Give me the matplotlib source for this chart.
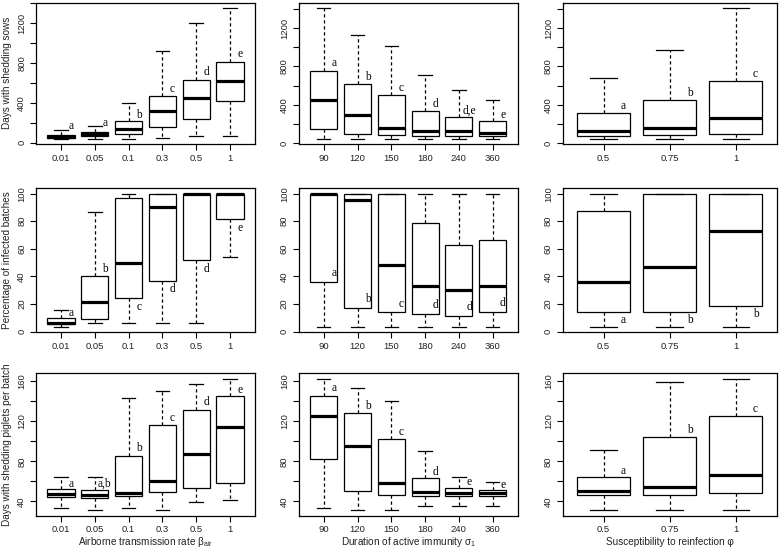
import matplotlib
matplotlib.use('Agg')
import matplotlib.pyplot as plt
import numpy as np

plt.rcParams['font.family'] = ['Liberation Sans', 'DejaVu Sans']
plt.rcParams['mathtext.fontset'] = 'custom'
plt.rcParams['mathtext.rm'] = 'Liberation Sans'
plt.rcParams['mathtext.it'] = 'Liberation Sans:italic'

# ---------------- categories ----------------
beta_cats = ['0.01', '0.05', '0.1', '0.3', '0.5', '1']
sigma_cats = ['90', '120', '150', '180', '240', '360']
phi_cats = ['0.5', '0.75', '1']

# ---------------- Row 1: Days with shedding sows ----------------
sows_beta_lo = [40, 40, 40, 50, 63, 63]
sows_beta_q1 = [47, 70, 90, 157, 234, 421]
sows_beta_med = [62, 84, 137, 314, 445, 622]
sows_beta_q3 = [78, 107, 220, 468, 632, 812]
sows_beta_hi = [130, 164, 404, 922, 1200, 1354]
sows_beta_letters = ['a', 'a', 'b', 'c', 'd', 'e']
sows_beta_letter_y = [164, 194, 281, 541, 708, 889]

sows_sigma_lo = [45, 45, 45, 45, 45, 45]
sows_sigma_q1 = [146, 94, 83, 77, 77, 77]
sows_sigma_med = [452, 289, 157, 122, 129, 108]
sows_sigma_q3 = [755, 612, 501, 334, 268, 226]
sows_sigma_hi = [1409, 1127, 1016, 706, 553, 449]
sows_sigma_letters = ['a', 'b', 'c', 'd', 'd,e', 'e']
sows_sigma_letter_y = [831, 692, 570, 403, 337, 289]

sows_phi_lo = [45, 45, 45]
sows_phi_q1 = [77, 83, 94]
sows_phi_med = [125, 160, 264]
sows_phi_q3 = [317, 449, 647]
sows_phi_hi = [678, 970, 1409]
sows_phi_letters = ['a', 'b', 'c']
sows_phi_letter_y = [386, 525, 717]

# ---------------- Row 2: Percentage of infected batches ----------------
pct_beta_lo = [3.4, 6.4, 6.4, 6.4, 6.4, 54.3]
pct_beta_q1 = [5.2, 9, 24.5, 37, 51.6, 81.3]
pct_beta_med = [6, 21.6, 50, 90, 99.5, 99.5]
pct_beta_q3 = [10, 40, 97, 100, 100, 100]
pct_beta_hi = [16, 87, 100, 100, 100, 100]
pct_beta_letters = ['a', 'b', 'c', 'd', 'd', 'e']
pct_beta_letter_y = [13.5, 45.5, 18, 30.7, 45.5, 75]

pct_sigma_lo = [3.4, 3.4, 3.4, 3.4, 3.4, 3.4]
pct_sigma_q1 = [35.9, 17.2, 14.5, 13, 11.5, 14.5]
pct_sigma_med = [99.5, 95.6, 48.6, 33.2, 30.2, 33.2]
pct_sigma_q3 = [100, 100, 100, 79, 63, 66.3]
pct_sigma_hi = [100, 100, 100, 100, 100, 100]
pct_sigma_letters = ['a', 'b', 'c', 'd', 'd', 'd']
pct_sigma_letter_y = [42.3, 23.3, 20.4, 19.4, 18.2, 20.9]

pct_phi_lo = [3.4, 3.4, 3.4]
pct_phi_q1 = [14.5, 14.5, 18.9]
pct_phi_med = [36.1, 47.2, 72.7]
pct_phi_q3 = [87.2, 100, 100]
pct_phi_hi = [100, 100, 100]
pct_phi_letters = ['a', 'b', 'b']
pct_phi_letter_y = [8.6, 8.8, 12.8]

# ---------------- Row 3: Days with shedding piglets per batch ----------------
pig_beta_lo = [33.3, 31.3, 33.3, 31, 39.7, 41.3]
pig_beta_q1 = [44.7, 43.7, 45, 49.7, 53.4, 58.1]
pig_beta_med = [47.7, 46.7, 48.4, 60.4, 86.9, 114.8]
pig_beta_q3 = [52.1, 51.7, 85.3, 116.4, 131.5, 144.9]
pig_beta_hi = [64.1, 64.5, 143.6, 150.6, 157.7, 162.7]
pig_beta_letters = ['a', 'a,b', 'b', 'c', 'd', 'e']
pig_beta_letter_y = [57.8, 57.8, 93, 123, 139.2, 151.6]

pig_sigma_lo = [33.3, 31.6, 31, 35.3, 35.3, 35.6]
pig_sigma_q1 = [82.6, 50, 46.4, 45, 45, 45.4]
pig_sigma_med = [125.8, 95.6, 58.4, 49.4, 48, 48]
pig_sigma_q3 = [145.6, 128.2, 102.4, 63.5, 53.1, 51.1]
pig_sigma_hi = [162.7, 153.6, 140.6, 90.3, 64.5, 59.8]
pig_sigma_letters = ['a', 'b', 'c', 'd', 'e', 'e']
pig_sigma_letter_y = [153, 134.9, 109.4, 69.8, 59.1, 56.1]

pig_phi_lo = [31, 31, 31]
pig_phi_q1 = [46.4, 46.4, 48.4]
pig_phi_med = [50.7, 54.1, 66.5]
pig_phi_q3 = [64.1, 104.4, 125.5]
pig_phi_hi = [91, 159.3, 162.7]
pig_phi_letters = ['a', 'b', 'c']
pig_phi_letter_y = [70.8, 111.4, 132.5]

ylabels = ['Days with shedding sows', 'Percentage of infected batches',
           'Days with shedding piglets per batch']
xlabels = [r'Airborne transmission rate $\mathrm{\beta_{air}}$',
           r'Duration of active immunity $\mathrm{\sigma_{1}}$',
           'Susceptibility to reinfection φ']

W, H = 783, 552
fig = plt.figure(figsize=(W / 100, H / 100), dpi=100)
fig.patch.set_facecolor('white')

col_x = [(36, 255), (298.7, 517.7), (562.7, 776.7)]
row_y = [(2.7, 144), (188.3, 332.3), (373.3, 515.7)]

panels = [
    [(beta_cats, sows_beta_lo, sows_beta_q1, sows_beta_med, sows_beta_q3, sows_beta_hi, sows_beta_letters, sows_beta_letter_y),
     (sigma_cats, sows_sigma_lo, sows_sigma_q1, sows_sigma_med, sows_sigma_q3, sows_sigma_hi, sows_sigma_letters, sows_sigma_letter_y),
     (phi_cats, sows_phi_lo, sows_phi_q1, sows_phi_med, sows_phi_q3, sows_phi_hi, sows_phi_letters, sows_phi_letter_y)],
    [(beta_cats, pct_beta_lo, pct_beta_q1, pct_beta_med, pct_beta_q3, pct_beta_hi, pct_beta_letters, pct_beta_letter_y),
     (sigma_cats, pct_sigma_lo, pct_sigma_q1, pct_sigma_med, pct_sigma_q3, pct_sigma_hi, pct_sigma_letters, pct_sigma_letter_y),
     (phi_cats, pct_phi_lo, pct_phi_q1, pct_phi_med, pct_phi_q3, pct_phi_hi, pct_phi_letters, pct_phi_letter_y)],
    [(beta_cats, pig_beta_lo, pig_beta_q1, pig_beta_med, pig_beta_q3, pig_beta_hi, pig_beta_letters, pig_beta_letter_y),
     (sigma_cats, pig_sigma_lo, pig_sigma_q1, pig_sigma_med, pig_sigma_q3, pig_sigma_hi, pig_sigma_letters, pig_sigma_letter_y),
     (phi_cats, pig_phi_lo, pig_phi_q1, pig_phi_med, pig_phi_q3, pig_phi_hi, pig_phi_letters, pig_phi_letter_y)],
]

row_ticks = [(200, 400), (20, 20), (20, 40)]  # (tick step, label step)

FS_TICK = 6.8
FS_LAB = 7.2
for r in range(3):
    for c in range(3):
        x0, x1 = col_x[c]
        y0, y1 = row_y[r]
        ax = fig.add_axes([x0 / W, 1 - y1 / H, (x1 - x0) / W, (y1 - y0) / H])
        cats, lo, q1, med, q3, hi, letters, ly = panels[r][c]
        n = len(cats)
        pos = np.arange(1, n + 1)
        stats = [dict(whislo=lo[i], q1=q1[i], med=med[i], q3=q3[i], whishi=hi[i], fliers=[])
                 for i in range(n)]
        ax.bxp(stats, positions=pos, widths=0.8, patch_artist=True, showfliers=False,
               boxprops=dict(facecolor='white', edgecolor='black', linewidth=0.9),
               medianprops=dict(color='black', linewidth=2.3, solid_capstyle='butt'),
               whiskerprops=dict(color='black', linewidth=0.9, linestyle=(0, (2.6, 2.2))),
               capprops=dict(color='black', linewidth=0.9))
        for i in range(n):
            ax.text(pos[i] + 0.3, ly[i], letters[i], family=['Liberation Serif'],
                    fontsize=8.3, ha='center', va='center', color='black')
        # axis limits (R-style 4% extension)
        dmin, dmax = min(lo), max(hi)
        ext = 0.04 * (dmax - dmin)
        ax.set_ylim(dmin - ext, dmax + ext)
        xext = 0.04 * n
        ax.set_xlim(0.5 - xext, n + 0.5 + xext)
        ax.set_xticks(pos)
        ax.set_xticklabels(cats)
        step, lstep = row_ticks[r]
        yt = np.arange(0, dmax + ext + 1e-9, step)
        yt = yt[yt >= dmin - ext]
        ax.set_yticks(yt)
        ax.set_yticklabels([('%d' % v) if (round(v) % lstep == 0) else '' for v in yt],
                           rotation=90, va='center')
        ax.tick_params(axis='both', direction='out', length=4, width=0.8, labelsize=FS_TICK,
                       colors='black', labelcolor='#222222')
        ax.tick_params(axis='y', pad=3)
        ax.tick_params(axis='x', pad=3)
        for s in ax.spines.values():
            s.set_linewidth(0.9)
            s.set_color('black')
        if c == 0:
            ax.text(-0.131, 0.5, ylabels[r], transform=ax.transAxes, rotation=90,
                    ha='center', va='center', fontsize=FS_LAB, color='#222222')
        if r == 2:
            ax.text(0.5, -0.183, xlabels[c], transform=ax.transAxes,
                    ha='center', va='center', fontsize=FS_LAB, color='#222222')

fig.savefig('out.png', dpi=100, facecolor='white')
